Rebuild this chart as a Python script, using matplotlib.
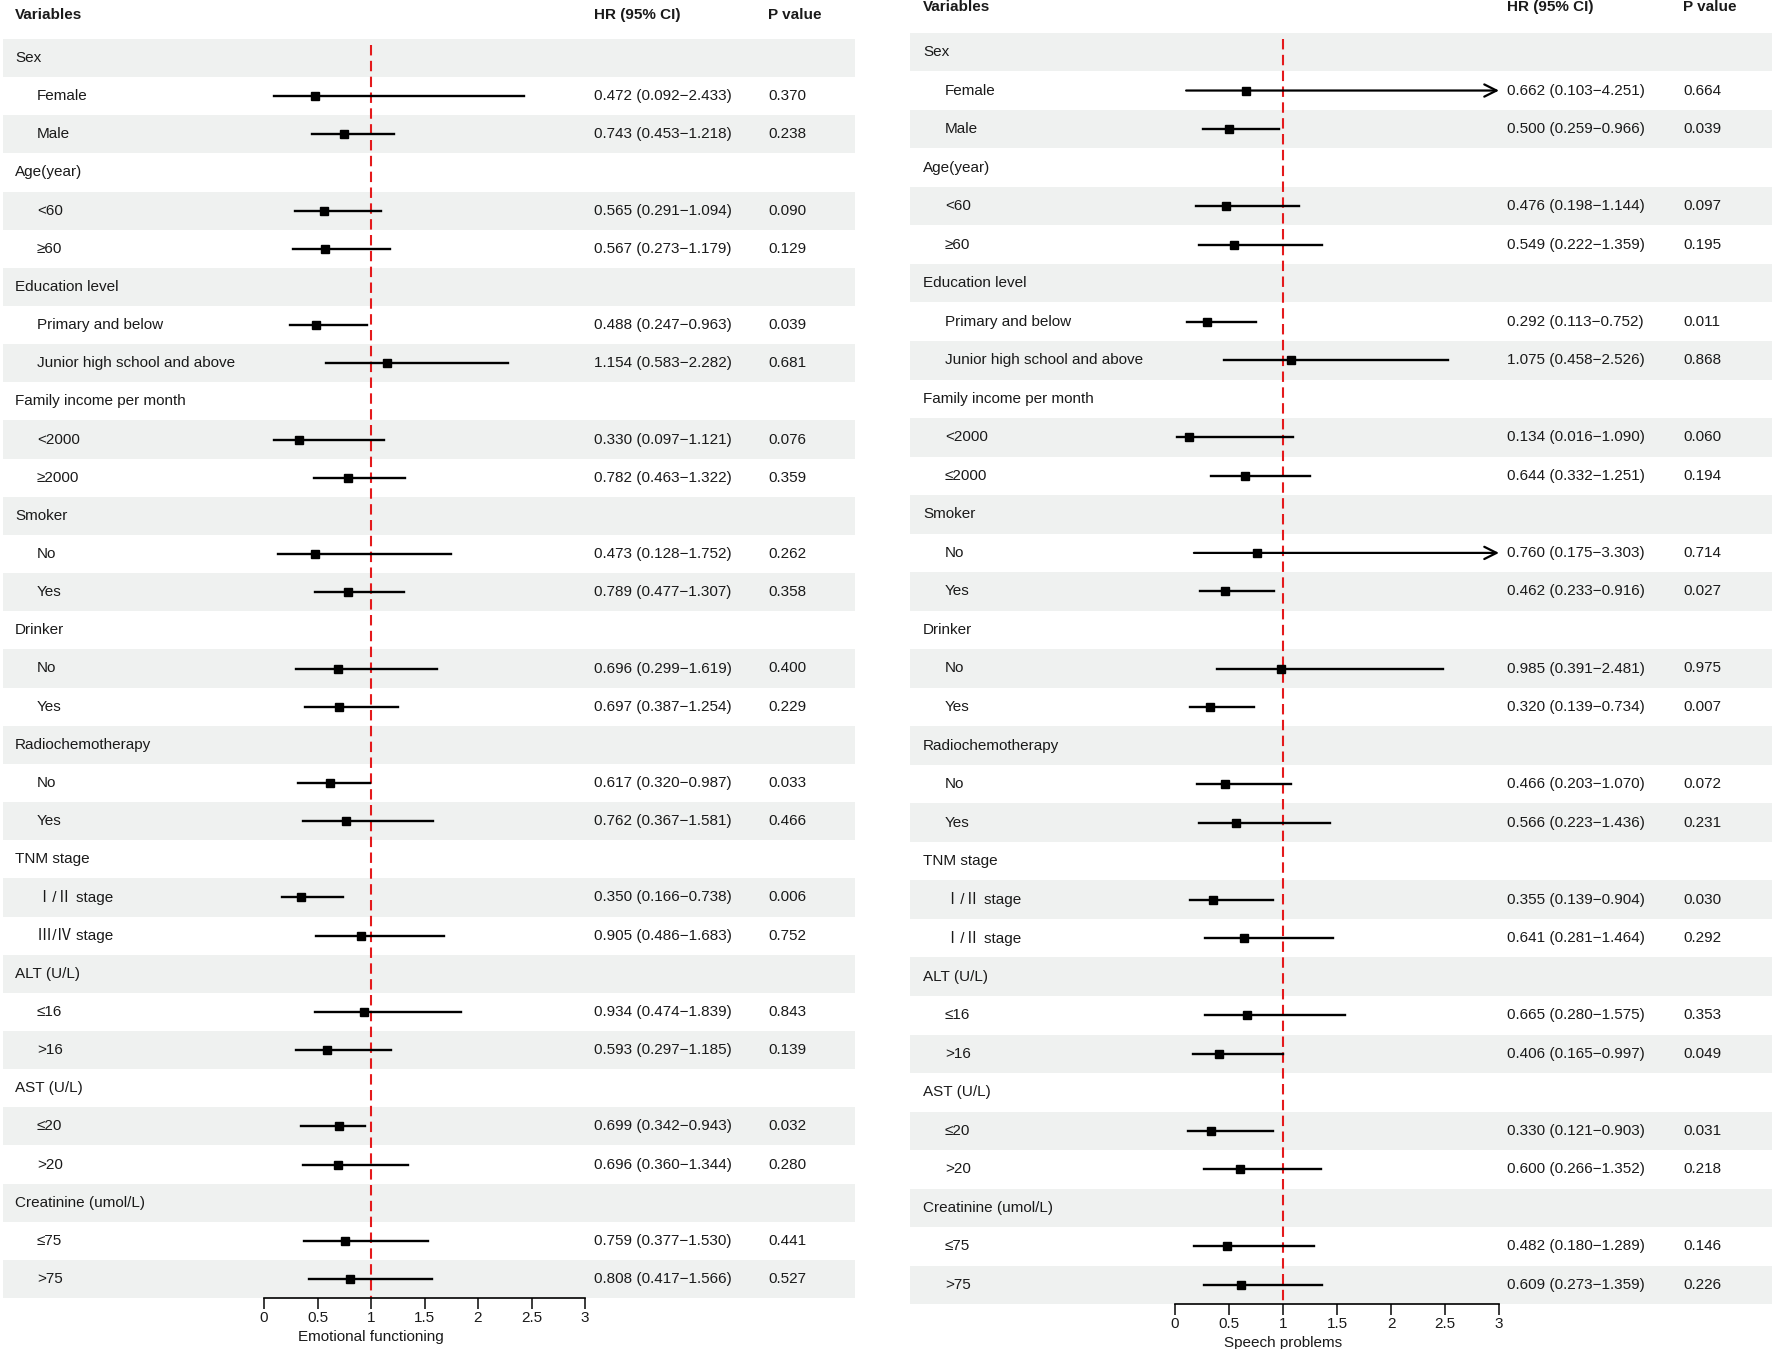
import numpy as np
import matplotlib
matplotlib.use("Agg")
import matplotlib.pyplot as plt
from matplotlib.ticker import FormatStrFormatter

plt.rcParams['font.family'] = ['Liberation Sans', 'Noto Sans CJK SC', 'DejaVu Sans']

# Row structure: group headers followed by their subgroups
groups = ["Sex", "Age(year)", "Education level", "Family income per month", "Smoker",
          "Drinker", "Radiochemotherapy", "TNM stage", "ALT (U/L)", "AST (U/L)",
          "Creatinine (umol/L)"]
sub_left = [["Female", "Male"], ["<60", "≥60"], ["Primary and below", "Junior high school and above"],
            ["<2000", "≥2000"], ["No", "Yes"], ["No", "Yes"], ["No", "Yes"],
            ["Ⅰ/Ⅱ stage", "Ⅲ/Ⅳ stage"], ["≤16", ">16"], ["≤20", ">20"], ["≤75", ">75"]]
sub_right = [["Female", "Male"], ["<60", "≥60"], ["Primary and below", "Junior high school and above"],
             ["<2000", "≤2000"], ["No", "Yes"], ["No", "Yes"], ["No", "Yes"],
             ["Ⅰ/Ⅱ stage", "Ⅰ/Ⅱ stage"], ["≤16", ">16"], ["≤20", ">20"], ["≤75", ">75"]]

# Emotional functioning
hr_left = [0.472, 0.743, 0.565, 0.567, 0.488, 1.154, 0.330, 0.782, 0.473, 0.789, 0.696,
           0.697, 0.617, 0.762, 0.350, 0.905, 0.934, 0.593, 0.699, 0.696, 0.759, 0.808]
lo_left = [0.092, 0.453, 0.291, 0.273, 0.247, 0.583, 0.097, 0.463, 0.128, 0.477, 0.299,
           0.387, 0.320, 0.367, 0.166, 0.486, 0.474, 0.297, 0.342, 0.360, 0.377, 0.417]
hi_left = [2.433, 1.218, 1.094, 1.179, 0.963, 2.282, 1.121, 1.322, 1.752, 1.307, 1.619,
           1.254, 0.987, 1.581, 0.738, 1.683, 1.839, 1.185, 0.943, 1.344, 1.530, 1.566]
p_left = ["0.370", "0.238", "0.090", "0.129", "0.039", "0.681", "0.076", "0.359", "0.262", "0.358", "0.400",
          "0.229", "0.033", "0.466", "0.006", "0.752", "0.843", "0.139", "0.032", "0.280", "0.441", "0.527"]

# Speech problems
hr_right = [0.662, 0.500, 0.476, 0.549, 0.292, 1.075, 0.134, 0.644, 0.760, 0.462, 0.985,
            0.320, 0.466, 0.566, 0.355, 0.641, 0.665, 0.406, 0.330, 0.600, 0.482, 0.609]
lo_right = [0.103, 0.259, 0.198, 0.222, 0.113, 0.458, 0.016, 0.332, 0.175, 0.233, 0.391,
            0.139, 0.203, 0.223, 0.139, 0.281, 0.280, 0.165, 0.121, 0.266, 0.180, 0.273]
hi_right = [4.251, 0.966, 1.144, 1.359, 0.752, 2.526, 1.090, 1.251, 3.303, 0.916, 2.481,
            0.734, 1.070, 1.436, 0.904, 1.464, 1.575, 0.997, 0.903, 1.352, 1.289, 1.359]
p_right = ["0.664", "0.039", "0.097", "0.195", "0.011", "0.868", "0.060", "0.194", "0.714", "0.027", "0.975",
           "0.007", "0.072", "0.231", "0.030", "0.292", "0.353", "0.049", "0.031", "0.218", "0.146", "0.226"]

xticks = [0, 0.5, 1, 1.5, 2, 2.5, 3]

W, H = 1772, 1349
fig = plt.figure(figsize=(W / 100, H / 100), dpi=100)
shade = '#eff1f0'
txt = '#1a1a1a'
FS = 11


def px_axes(x0, x1, y_top, y_bot):
    return fig.add_axes([x0 / W, 1 - y_bot / H, (x1 - x0) / W, (y_bot - y_top) / H])


def draw_panel(subs, hr, lo, hi, pv, xlabel, lay):
    # build rows
    labels, is_group, item_row = [], [], []
    for g, s in zip(groups, subs):
        labels.append(g)
        is_group.append(True)
        for lab in s:
            item_row.append(len(labels))
            labels.append(lab)
            is_group.append(False)
    n = len(labels)
    step = (lay['y_last'] - lay['y_first']) / (n - 1)
    top = lay['y_first'] - step / 2
    bot = lay['y_last'] + step / 2

    # table background + text
    bg = px_axes(lay['band_x0'], lay['band_x1'], top, bot)
    bg.set_xlim(lay['band_x0'], lay['band_x1'])
    bg.set_ylim(n - 0.5, -0.5)
    bg.axis('off')
    for i in range(0, n, 2):
        bg.axhspan(i - 0.5, i + 0.5, color=shade, lw=0)
    for i, (lab, grp) in enumerate(zip(labels, is_group)):
        x = lay['x_var'] if grp else lay['x_sub']
        bg.text(x, i, lab, ha='left', va='center', fontsize=FS, color=txt)
    for k, r in enumerate(item_row):
        bg.text(lay['x_hr'], r, f"{hr[k]:.3f} ({lo[k]:.3f}\u2212{hi[k]:.3f})",
                ha='left', va='center', fontsize=FS, color=txt)
        bg.text(lay['x_p'], r, pv[k], ha='left', va='center', fontsize=FS, color=txt)
    hy = lay['header_row']
    for x, h in [(lay['x_var'], "Variables"), (lay['x_hr'], "HR (95% CI)"), (lay['x_p'], "P value")]:
        bg.text(x, hy, h, ha='left', va='center', fontsize=FS, fontweight='bold', color=txt)

    # forest plot column
    ax = px_axes(lay['ax_x0'], lay['ax_x3'], top, bot)
    ax.patch.set_alpha(0)
    ax.set_xlim(0, 3)
    ax.set_ylim(n - 0.5, -0.5)
    ax.plot([1, 1], [-0.35, n - 0.5], color='#e41a1c', lw=1.5, ls=(0, (5, 2.6)), zorder=1)
    for k, r in enumerate(item_row):
        if hi[k] > 3:
            ax.annotate('', xy=(3, r), xytext=(lo[k], r),
                        arrowprops=dict(arrowstyle='->', lw=1.6, color='black',
                                        mutation_scale=22, shrinkA=0, shrinkB=0))
        else:
            ax.plot([lo[k], hi[k]], [r, r], color='black', lw=1.7, zorder=2)
        ax.plot(hr[k], r, marker='s', ms=5.8, color='black', zorder=3)
    for s in ['top', 'left', 'right']:
        ax.spines[s].set_visible(False)
    ax.spines['bottom'].set_linewidth(1.2)
    ax.set_yticks([])
    ax.set_xticks(xticks)
    ax.xaxis.set_major_formatter(FormatStrFormatter('%g'))
    ax.tick_params(axis='x', length=8, width=1.2, pad=1, labelsize=FS, colors=txt)
    ax.set_xlabel(xlabel, fontsize=FS, color=txt)
    # label sits under the reference line at 1
    ax.xaxis.set_label_coords(1 / 3, lay['xlabel_y'])


draw_panel(sub_left, hr_left, lo_left, hi_left, p_left, "Emotional functioning",
           dict(y_first=58, y_last=1279, band_x0=3, band_x1=855, x_var=15, x_sub=37,
                x_hr=594, x_p=768, ax_x0=264, ax_x3=585, header_row=-1.13, xlabel_y=-0.025))
draw_panel(sub_right, hr_right, lo_right, hi_right, p_right, "Speech problems",
           dict(y_first=52, y_last=1285, band_x0=910, band_x1=1772, x_var=923, x_sub=945,
                x_hr=1507, x_p=1683, ax_x0=1175, ax_x3=1499, header_row=-1.16, xlabel_y=-0.025))

fig.savefig("out.png", dpi=100, facecolor='white')
